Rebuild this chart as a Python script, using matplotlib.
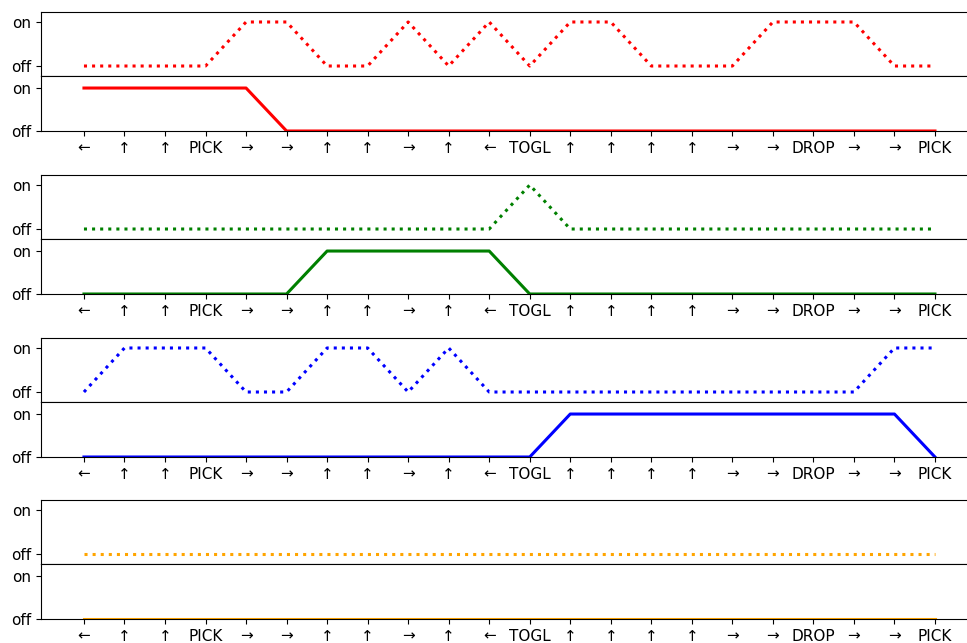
import matplotlib
matplotlib.use("Agg")
import numpy as np
import matplotlib.pyplot as plt

# action sequence along the x axis
actions = ["←", "↑", "↑", "PICK", "→", "→", "↑", "↑", "→", "↑", "←", "TOGL",
           "↑", "↑", "↑", "↑", "→", "→", "DROP", "→", "→", "PICK"]

# dotted (upper) signals, 0 = off, 1 = on
red_dotted = [0, 0, 0, 0, 1, 1, 0, 0, 1, 0, 1, 0, 1, 1, 0, 0, 0, 1, 1, 1, 0, 0]
green_dotted = [0, 0, 0, 0, 0, 0, 0, 0, 0, 0, 0, 1, 0, 0, 0, 0, 0, 0, 0, 0, 0, 0]
blue_dotted = [0, 1, 1, 1, 0, 0, 1, 1, 0, 1, 0, 0, 0, 0, 0, 0, 0, 0, 0, 0, 1, 1]
orange_dotted = [0] * 22

# solid (lower) signals
red_solid = [1, 1, 1, 1, 1, 0, 0, 0, 0, 0, 0, 0, 0, 0, 0, 0, 0, 0, 0, 0, 0, 0]
green_solid = [0, 0, 0, 0, 0, 0, 1, 1, 1, 1, 1, 0, 0, 0, 0, 0, 0, 0, 0, 0, 0, 0]
blue_solid = [0, 0, 0, 0, 0, 0, 0, 0, 0, 0, 0, 0, 1, 1, 1, 1, 1, 1, 1, 1, 1, 0]
orange_solid = [0] * 22

colors = ["red", "green", "blue", "orange"]
dotted = [red_dotted, green_dotted, blue_dotted, orange_dotted]
solid = [red_solid, green_solid, blue_solid, orange_solid]

W, H = 967, 643
fig = plt.figure(figsize=(W / 100, H / 100), dpi=100)

x = np.arange(len(actions))
left = 41 / W
width = 1.0 - left
# top pixel of each group's upper axes
tops = [12, 175, 338, 500]

for top, c, d, s in zip(tops, colors, dotted, solid):
    ax1 = fig.add_axes([left, (H - top - 64) / H, width, 64 / H])
    ax2 = fig.add_axes([left, (H - top - 64 - 55) / H, width, 55 / H])

    ax1.plot(x, d, color=c, linestyle=":", linewidth=2.2)
    ax2.plot(x, s, color=c, linestyle="-", linewidth=2.2)

    for ax in (ax1, ax2):
        ax.set_xlim(-1.06, 21.79)
        ax.set_yticks([0, 1])
        ax.set_yticklabels(["off", "on"])
        ax.spines["right"].set_visible(False)
        ax.tick_params(labelsize=11)

    ax1.set_ylim(-0.227, 1.227)
    ax1.set_xticks([])
    ax2.set_ylim(0, 1.28)
    ax2.set_xticks(x)
    ax2.set_xticklabels(actions)

plt.savefig("out.png", dpi=100)
